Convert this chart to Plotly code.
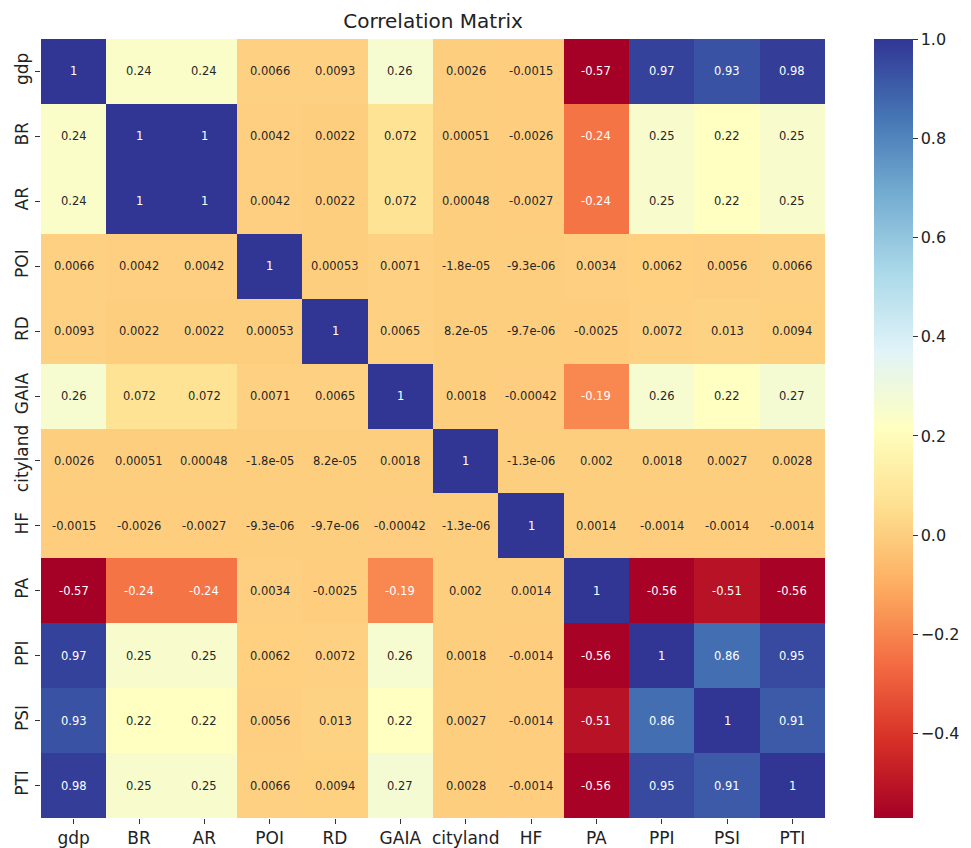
import plotly.graph_objects as go
import plotly.express as px

labels = ["gdp", "BR", "AR", "POI", "RD", "GAIA", "cityland", "HF", "PA", "PPI", "PSI", "PTI"]

row_gdp = [1, 0.24, 0.24, 0.0066, 0.0093, 0.26, 0.0026, -0.0015, -0.57, 0.97, 0.93, 0.98]
row_BR = [0.24, 1, 1, 0.0042, 0.0022, 0.072, 0.00051, -0.0026, -0.24, 0.25, 0.22, 0.25]
row_AR = [0.24, 1, 1, 0.0042, 0.0022, 0.072, 0.00048, -0.0027, -0.24, 0.25, 0.22, 0.25]
row_POI = [0.0066, 0.0042, 0.0042, 1, 0.00053, 0.0071, -1.8e-05, -9.3e-06, 0.0034, 0.0062, 0.0056, 0.0066]
row_RD = [0.0093, 0.0022, 0.0022, 0.00053, 1, 0.0065, 8.2e-05, -9.7e-06, -0.0025, 0.0072, 0.013, 0.0094]
row_GAIA = [0.26, 0.072, 0.072, 0.0071, 0.0065, 1, 0.0018, -0.00042, -0.19, 0.26, 0.22, 0.27]
row_cityland = [0.0026, 0.00051, 0.00048, -1.8e-05, 8.2e-05, 0.0018, 1, -1.3e-06, 0.002, 0.0018, 0.0027, 0.0028]
row_HF = [-0.0015, -0.0026, -0.0027, -9.3e-06, -9.7e-06, -0.00042, -1.3e-06, 1, 0.0014, -0.0014, -0.0014, -0.0014]
row_PA = [-0.57, -0.24, -0.24, 0.0034, -0.0025, -0.19, 0.002, 0.0014, 1, -0.56, -0.51, -0.56]
row_PPI = [0.97, 0.25, 0.25, 0.0062, 0.0072, 0.26, 0.0018, -0.0014, -0.56, 1, 0.86, 0.95]
row_PSI = [0.93, 0.22, 0.22, 0.0056, 0.013, 0.22, 0.0027, -0.0014, -0.51, 0.86, 1, 0.91]
row_PTI = [0.98, 0.25, 0.25, 0.0066, 0.0094, 0.27, 0.0028, -0.0014, -0.56, 0.95, 0.91, 1]

matrix = [row_gdp, row_BR, row_AR, row_POI, row_RD, row_GAIA, row_cityland,
          row_HF, row_PA, row_PPI, row_PSI, row_PTI]

cbar_ticks = [1.0, 0.8, 0.6, 0.4, 0.2, 0.0, -0.2, -0.4]
cbar_ticktext = [f"{v:.1f}".replace("-", "\u2212") for v in cbar_ticks]

rdylbu = px.colors.diverging.RdYlBu
n = len(rdylbu)
colorscale = [[i / (n - 1), c] for i, c in enumerate(rdylbu)]

font_family = "DejaVu Sans"
# the page body adds an 8px offset, so the figure is drawn 8px smaller
W, H = 963, 840
L, R, T, B = 33, 146, 31, 30
plot_w = W - L - R

fig = go.Figure(go.Heatmap(
    z=matrix, x=labels, y=labels,
    colorscale=colorscale, zmin=-0.57, zmax=1.0,
    hoverinfo="skip",
    colorbar=dict(
        xref="paper", x=(866 - L) / plot_w, xanchor="left",
        yref="paper", y=0.5, yanchor="middle",
        len=1.0, lenmode="fraction",
        thickness=39, outlinewidth=0, xpad=0, ypad=0,
        tickvals=cbar_ticks, ticktext=cbar_ticktext,
        ticks="outside", ticklen=5, tickcolor="#333",
        tickfont=dict(family=font_family, size=16, color="#222"),
    ),
))

annotations = []
for i, rlab in enumerate(labels):
    for j, clab in enumerate(labels):
        v = matrix[i][j]
        color = "white" if (v > 0.8 or v < -0.15) else "#262626"
        annotations.append(dict(
            x=clab, y=rlab, xref="x", yref="y",
            text=format(v, ".2g"), showarrow=False,
            font=dict(family=font_family, size=11.5, color=color),
        ))

fig.update_layout(
    width=W, height=H,
    margin=dict(l=L, r=R, t=T, b=B, autoexpand=False),
    paper_bgcolor="white", plot_bgcolor="white",
    title=dict(text="Correlation Matrix", x=0.5, xref="paper", xanchor="center",
               y=1 - 13 / H, yref="container", yanchor="middle",
               font=dict(family=font_family, size=20, color="#222")),
    annotations=annotations,
    xaxis=dict(ticks="outside", ticklen=5, tickcolor="#333", showgrid=False,
               zeroline=False, showline=False, automargin=False,
               tickfont=dict(family=font_family, size=17, color="#222")),
    yaxis=dict(ticks="outside", ticklen=5, tickcolor="#333", showgrid=False,
               zeroline=False, showline=False, autorange="reversed",
               tickangle=-90, automargin=False,
               tickfont=dict(family=font_family, size=17, color="#222")),
)

fig.write_html("out.html")
